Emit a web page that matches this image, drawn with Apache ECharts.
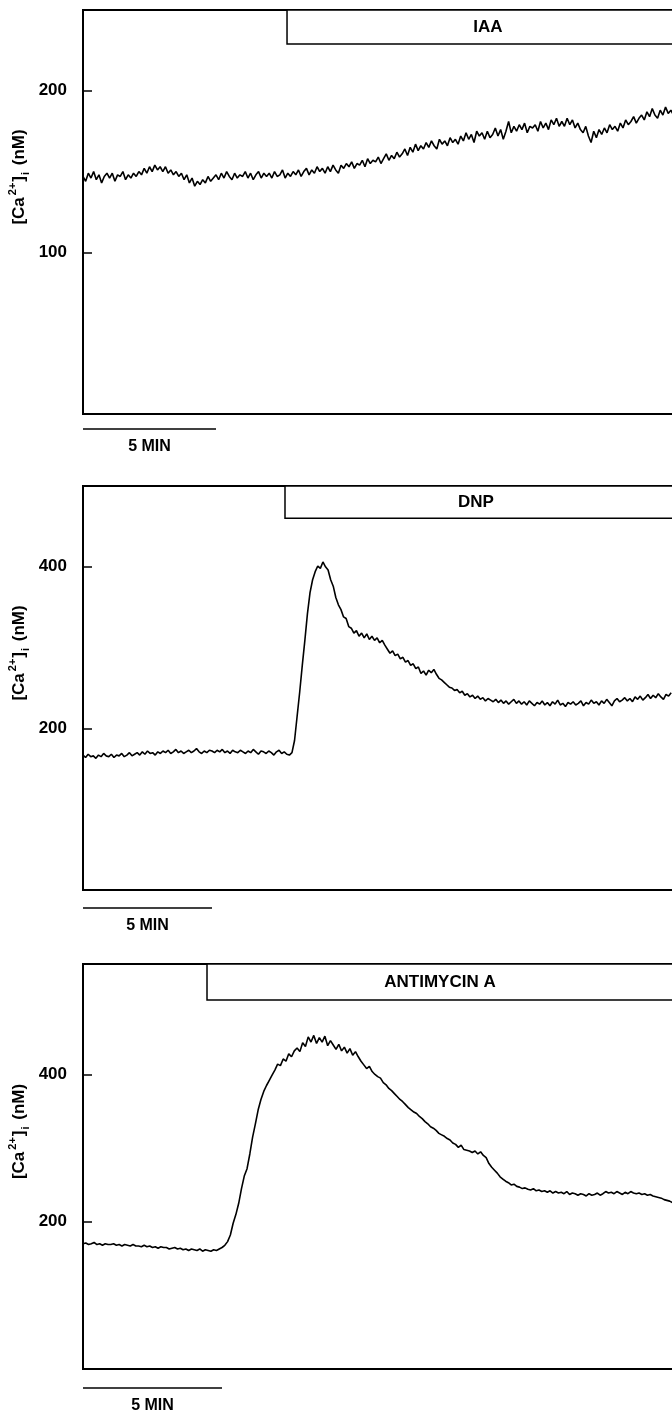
<!DOCTYPE html>
<html><head><meta charset="utf-8">
<script src="https://cdn.jsdelivr.net/npm/echarts@6/dist/echarts.min.js"></script>
<style>html,body{margin:0;padding:0;background:#fff}#c{width:672px;height:1412px}</style>
</head><body><div id="c"></div><script>
// sampling interval of the traces, minutes
const sampleStep = 0.1;
// [Ca2+]i (nM) traces
const iaaValues = [
147,144,149,146,150,145,148,143,147,149,
146,149,144,148,147,150,145,148,146,149,
147,150,148,152,149,153,150,154,151,153,
150,153,149,151,148,150,147,149,145,148,
143,146,141,144,142,145,143,147,144,146,
148,145,149,146,150,147,145,149,146,148,
147,150,146,149,145,148,150,146,149,147,
149,146,150,147,148,151,146,149,147,150,
148,151,147,150,152,148,151,149,153,150,
152,149,153,150,154,151,149,154,152,155,
153,156,152,155,154,157,153,158,155,157,
156,159,155,158,161,157,160,158,162,159,
161,164,160,165,162,167,163,166,164,168,
165,169,166,164,170,167,169,166,171,168,
170,167,172,169,174,170,173,168,175,172,
174,170,175,171,173,177,172,176,170,175,
181,174,178,175,179,176,180,174,178,177,
179,175,181,177,180,176,182,179,183,178,
181,178,183,179,182,177,180,176,174,178,
172,168,175,171,176,173,177,174,179,176,
178,175,180,177,182,179,181,184,180,183,
185,182,187,184,189,185,183,188,185,190,
186,188,185];
const dnpValues = [
167,164,168,165,166,163,167,165,169,166,
165,168,164,167,166,169,165,167,170,166,
168,170,167,171,168,172,169,170,167,171,
169,172,170,173,169,171,174,170,172,169,
171,173,170,172,175,171,169,172,170,173,
172,170,173,171,174,170,172,169,173,171,
170,173,171,169,172,170,174,171,168,172,
171,169,172,170,167,171,173,169,171,168,
167,170,185,215,245,278,309,342,368,384,
394,401,398,406,400,396,384,376,362,353,
347,338,336,326,324,318,321,314,318,312,
317,310,314,309,312,306,309,303,298,293,
296,290,292,286,288,282,284,278,280,274,
276,268,271,266,272,269,273,267,262,260,
257,254,251,250,247,248,244,246,241,243,
239,241,237,240,236,238,234,237,235,233,
236,232,235,231,234,230,233,236,231,234,
230,233,229,234,231,228,232,230,234,229,
232,228,233,230,235,229,231,227,232,230,
233,229,231,234,228,232,230,235,231,233,
229,234,231,236,232,228,234,237,233,235,
238,234,237,233,239,236,240,235,238,242,
237,241,238,243,239,236,242,240,244];
const antimycinValues = [
170,171,169,170,172,169,170,168,170,169,
169,170,168,169,167,169,168,167,169,167,
167,166,168,166,167,165,166,164,166,165,
165,163,164,165,163,164,162,163,161,163,
162,161,163,160,162,161,160,162,161,163,
165,168,173,182,198,210,225,245,262,272,
292,315,333,352,366,377,385,392,399,406,
414,412,421,418,428,424,432,436,431,443,
438,451,444,453,442,450,444,452,439,446,
440,434,441,432,437,429,435,426,431,424,
418,413,408,411,404,400,397,395,389,386,
381,378,374,370,366,363,359,355,352,349,
347,343,340,336,333,329,327,324,320,318,
316,313,311,307,305,301,304,298,297,296,
294,296,292,295,290,287,279,274,270,266,
261,258,255,253,250,251,248,247,245,246,
244,243,245,242,243,241,242,240,242,239,
241,239,240,238,241,237,239,238,236,238,
237,235,238,236,237,239,236,238,241,239,
240,238,241,239,237,240,238,241,239,238,
239,237,238,236,237,235,234,233,232,230,
229,228,226];
const traces = [iaaValues, dnpValues, antimycinValues];
const treatmentLabels = ['IAA', 'DNP', 'ANTIMYCIN A'];
const treatmentStart = [7.67, 7.83, 4.46];   // minutes
const boxBottom = [229, 460, 501];           // nM
const yMax = [250, 500, 550];
const yInterval = [100, 200, 200];
const yTickLabels = [[100, 200], [200, 400], [200, 400]];
const xMax = [22.18, 22.87, 21.22];          // minutes
const scaleBarMinutes = 5;
const scaleBarLabel = '5 MIN';

const FONT = "'Liberation Sans', Arial, Helvetica, sans-serif";
const gridPos = [{top: 10, height: 404}, {top: 486, height: 404}, {top: 964, height: 405}];
const barOffset = [15, 18, 19];
const boxLabelOffset = [[8, 0], [-3, 0], [0, 0]];

const chart = echarts.init(document.getElementById('c'), null, {renderer: 'canvas'});
const grids = [], xAxes = [], yAxes = [], series = [];
for (let i = 0; i < 3; i++) {
  grids.push({left: 83, width: 590, top: gridPos[i].top, height: gridPos[i].height,
    containLabel: false, outerBoundsMode: 'none',
    show: true, borderColor: '#000', borderWidth: 2, backgroundColor: 'transparent'});
  xAxes.push({type: 'value', gridIndex: i, min: 0, max: xMax[i],
    axisLine: {show: false}, axisTick: {show: false}, axisLabel: {show: false}, splitLine: {show: false}});
  const ticks = yTickLabels[i];
  yAxes.push({type: 'value', gridIndex: i, min: 0, max: yMax[i], interval: yInterval[i],
    axisLine: {show: false},
    axisTick: {show: true, inside: true, length: 9, lineStyle: {color: '#000', width: 1.5}},
    axisLabel: {show: true, margin: 16, color: '#000', fontFamily: FONT, fontWeight: 'bold', fontSize: 17,
      formatter: v => ticks.includes(v) ? String(v) : ''},
    splitLine: {show: false},
    name: '{b|[Ca}{sup|2+}{b|]}{sub|i}{b| (nM)}',
    nameLocation: 'middle', nameGap: 52, nameMoveOverlap: false,
    nameTextStyle: {padding: [0, 0, 0, 70],
      rich: {
        b: {fontSize: 17, fontWeight: 'bold', fontFamily: FONT, color: '#000', lineHeight: 24, verticalAlign: 'middle'},
        sup: {fontSize: 11, fontWeight: 'bold', fontFamily: FONT, color: '#000', lineHeight: 12, verticalAlign: 'top', padding: [0, 1, 0, 2]},
        sub: {fontSize: 11, fontWeight: 'bold', fontFamily: FONT, color: '#000', lineHeight: 12, verticalAlign: 'bottom', padding: [0, 2, 0, 1]}
      }}
  });
  series.push({type: 'line', xAxisIndex: i, yAxisIndex: i, showSymbol: false, clip: true,
    data: traces[i].map((v, k) => [k * sampleStep, v]),
    lineStyle: {color: '#000', width: 1.6}, itemStyle: {color: '#000'},
    markArea: {silent: true,
      itemStyle: {color: '#fff', borderColor: '#000', borderWidth: 1.5},
      label: {show: true, position: 'inside', offset: boxLabelOffset[i], color: '#000', fontFamily: FONT, fontWeight: 'bold', fontSize: 17},
      data: [[{name: treatmentLabels[i], xAxis: treatmentStart[i], yAxis: boxBottom[i]},
              {xAxis: xMax[i], yAxis: yMax[i]}]]}
  });
}
chart.setOption({animation: false, backgroundColor: '#fff', grid: grids, xAxis: xAxes, yAxis: yAxes, series});

const graphics = [];
for (let i = 0; i < 3; i++) {
  const p0 = chart.convertToPixel({gridIndex: i}, [0, 0]);
  const p1 = chart.convertToPixel({gridIndex: i}, [scaleBarMinutes, 0]);
  const y = p0[1] + barOffset[i];
  graphics.push({type: 'line', shape: {x1: p0[0], y1: y, x2: p1[0], y2: y}, style: {stroke: '#000', lineWidth: 1.5}});
  graphics.push({type: 'text', x: (p0[0] + p1[0]) / 2, y: y + 18,
    style: {text: scaleBarLabel, fill: '#000', font: 'bold 16px ' + FONT, textAlign: 'center', textVerticalAlign: 'middle'}});
}
chart.setOption({graphic: graphics});
</script></body></html>
